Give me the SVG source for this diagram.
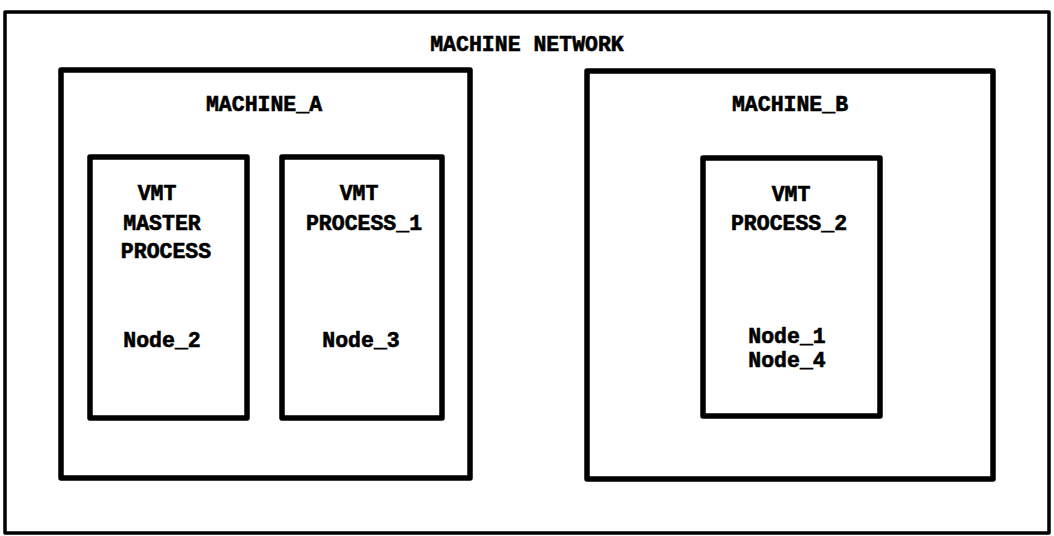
<svg xmlns="http://www.w3.org/2000/svg" width="1054" height="536" viewBox="0 0 1054 536">
  <style>
    .frame { fill: none; stroke: #000; stroke-width: 3.5; stroke-linejoin: round; }
    .box { fill: none; stroke: #000; stroke-width: 5.5; stroke-linejoin: round; }
    text { font-family: "Liberation Mono", "DejaVu Sans Mono", monospace; font-weight: bold; font-size: 21.5px; fill: #000; stroke: #000; stroke-width: 0.6; text-anchor: middle; }
  </style>
  <rect width="1054" height="536" fill="#fff"/>

  <!-- network boundary -->
  <g id="machine-network">
    <rect class="frame" x="5" y="12" width="1044" height="521"/>
    <text x="527" y="51">MACHINE NETWORK</text>
  </g>

  <!-- host machines -->
  <g id="machine-a">
    <rect class="box" x="61" y="70" width="409" height="408"/>
    <text x="264" y="111">MACHINE_A</text>
  </g>
  <g id="machine-b">
    <rect class="box" x="587" y="71" width="406" height="408"/>
    <text x="790" y="111">MACHINE_B</text>
  </g>

  <!-- VMT processes and the nodes they host -->
  <g id="vmt-master-process">
    <rect class="box" x="90" y="157" width="157" height="261"/>
    <text x="157" y="200">VMT</text>
    <text x="162" y="230">MASTER</text>
    <text x="166" y="258">PROCESS</text>
    <text x="162" y="347">Node_2</text>
  </g>
  <g id="vmt-process-1">
    <rect class="box" x="282" y="157" width="160" height="261"/>
    <text x="359" y="200">VMT</text>
    <text x="364" y="230">PROCESS_1</text>
    <text x="361" y="347">Node_3</text>
  </g>
  <g id="vmt-process-2">
    <rect class="box" x="703" y="158" width="177" height="258"/>
    <text x="791" y="201">VMT</text>
    <text x="789" y="230">PROCESS_2</text>
    <text x="787" y="343">Node_1</text>
    <text x="787" y="367">Node_4</text>
  </g>

  <!-- no connectors in this diagram -->
  <g id="connectors"/>
</svg>
